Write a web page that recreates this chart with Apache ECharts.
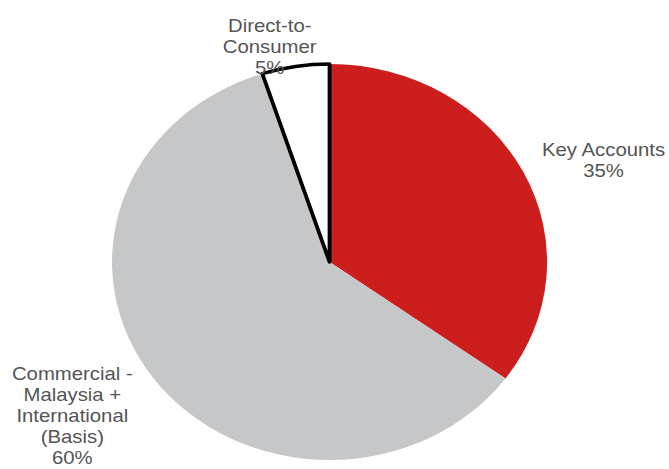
<!DOCTYPE html>
<html>
<head>
<meta charset="utf-8">
<script src="https://cdn.jsdelivr.net/npm/echarts@6/dist/echarts.min.js"></script>
<style>
  html, body { margin: 0; padding: 0; background: #fff; overflow: hidden; }
  /* the pie is drawn slightly wider than tall */
  #chart { width: 609px; height: 469px; transform: scaleX(1.0985); transform-origin: 0 0; }
</style>
</head>
<body>
<div id="chart"></div>
<script>
const categories = ['Key Accounts', 'Commercial -\nMalaysia +\nInternational\n(Basis)', 'Direct-to-\nConsumer'];
const shares = [35, 60, 5];
const sliceColors = ['#CB1E1D', '#C6C7C9', '#FFFFFF'];
// label nudges relative to each slice's outer edge
const labelShift = [[68, -12], [-69, 37], [-18.5, -20.5]];

const chart = echarts.init(document.getElementById('chart'), null, { renderer: 'svg' });

const data = categories.map((name, i) => ({
  name: name,
  value: shares[i],
  itemStyle: i === 2
    ? { color: sliceColors[i], borderColor: '#000', borderWidth: 3.5 }
    : { color: sliceColors[i], borderWidth: 0 }
}));

chart.setOption({
  animation: false,
  series: [{
    type: 'pie',
    center: [300, 262],
    radius: 198,
    startAngle: 90,
    clockwise: true,
    data: data,
    label: {
      show: true,
      position: 'outside',
      formatter: '{b}\n{d}%',
      fontFamily: 'Arial, "Liberation Sans", sans-serif',
      fontSize: 18.5,
      lineHeight: 21,
      color: '#555555',
      distanceToLabelLine: 5
    },
    labelLine: { show: false, length: 0, length2: 0 },
    labelLayout: function (p) {
      const s = labelShift[p.dataIndex];
      return { align: 'center', verticalAlign: 'middle', dx: s[0], dy: s[1] };
    },
    emphasis: { disabled: true }
  }]
});
</script>
</body>
</html>
